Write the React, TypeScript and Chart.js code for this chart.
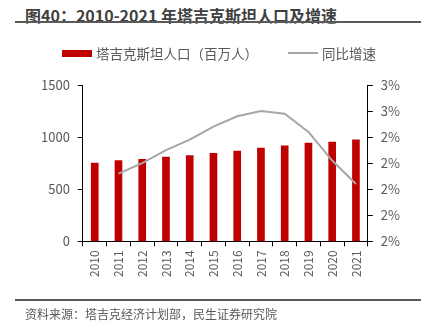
import React, { useEffect, useRef } from "react";
import { Chart, registerables } from "chart.js";

Chart.register(...registerables);

const years = ["2010","2011","2012","2013","2014","2015","2016","2017","2018","2019","2020","2021"];
const population = [751, 774, 787, 809, 823, 845, 867, 894, 916, 942, 952, 974];
const growth = [null, 2.26, 2.30, 2.35, 2.39, 2.44, 2.48, 2.50, 2.49, 2.42, 2.31, 2.22];
const leftTicks = [0, 500, 1000, 1500];

const FONT = "'Noto Sans CJK SC', 'Noto Sans', sans-serif";
const RED = "#C00000";
const GRAY = "#A6A6A6";
const TXT = "#595959";

export default function App() {
  const ref = useRef<HTMLCanvasElement>(null);
  useEffect(() => {
    const chart = new Chart(ref.current!, {
      type: "bar",
      data: {
        labels: years,
        datasets: [
          {
            type: "line",
            label: "同比增速",
            data: growth as any,
            yAxisID: "y1",
            borderColor: GRAY,
            borderWidth: 2,
            pointRadius: 0,
            tension: 0,
            order: 0,
          } as any,
          {
            type: "bar",
            label: "塔吉克斯坦人口（百万人）",
            data: population,
            yAxisID: "y",
            backgroundColor: RED,
            barThickness: 7,
            order: 1,
          },
        ],
      },
      options: {
        animation: false,
        responsive: false,
        maintainAspectRatio: false,
        layout: { padding: { top: 85, left: 33, right: 21, bottom: 49 } },
        plugins: { legend: { display: false }, tooltip: { enabled: false } },
        scales: {
          x: {
            offset: true,
            grid: { offset: true, drawOnChartArea: false, drawTicks: true, tickLength: 5, color: "#000" },
            border: { color: "#000", width: 1 },
            ticks: { minRotation: 90, maxRotation: 90, color: TXT, font: { family: FONT, size: 12 }, padding: 4 },
          },
          y: {
            position: "left",
            min: 0,
            max: 1500,
            afterBuildTicks: (s: any) => { s.ticks = leftTicks.map((v) => ({ value: v })); },
            grid: { drawOnChartArea: false, drawTicks: true, tickLength: 5, color: "#000" },
            border: { color: "#000", width: 1 },
            ticks: { color: TXT, font: { family: FONT, size: 13 }, padding: 8, callback: (v: any) => String(v) },
          },
          y1: {
            position: "right",
            min: 2.0,
            max: 2.6,
            ticks: {
              stepSize: 0.1,
              color: TXT,
              font: { family: FONT, size: 13 },
              padding: 8,
              callback: (v: any) => Math.round(Math.round(Number(v) * 10) / 10) + "%",
            },
            grid: { drawOnChartArea: false, drawTicks: true, tickLength: 5, color: "#000" },
            border: { color: "#000", width: 1 },
          },
        },
      },
    });
    return () => chart.destroy();
  }, []);

  return (
    <div style={{ position: "fixed", left: 0, top: 0, width: 429, height: 330, background: "#fff", fontFamily: FONT, overflow: "hidden" }}>
      <div style={{ position: "absolute", left: 25, top: 3, fontSize: 16, fontWeight: 700, color: "#404040", whiteSpace: "nowrap" }}>
        图40：2010-2021 年塔吉克斯坦人口及增速
      </div>
      <div style={{ position: "absolute", left: 15, top: 21, width: 406, height: 2, background: "#595959" }} />
      <canvas ref={ref} width={429} height={330} style={{ position: "absolute", left: 0, top: 0 }} />
      <div style={{ position: "absolute", left: 62, top: 43, display: "flex", alignItems: "center", fontSize: 13.5, color: TXT, whiteSpace: "nowrap" }}>
        <span style={{ display: "inline-block", width: 30, height: 7, background: RED, marginRight: 4 }} />
        <span>塔吉克斯坦人口（百万人）</span>
        <span style={{ display: "inline-block", width: 30, height: 2, background: GRAY, marginLeft: 30, marginRight: 4 }} />
        <span>同比增速</span>
      </div>
      <div style={{ position: "absolute", left: 15, top: 299, width: 406, height: 2, background: "#595959" }} />
      <div style={{ position: "absolute", left: 25, top: 305, fontSize: 12, color: TXT, whiteSpace: "nowrap" }}>
        资料来源：塔吉克经济计划部，民生证券研究院
      </div>
    </div>
  );
}
